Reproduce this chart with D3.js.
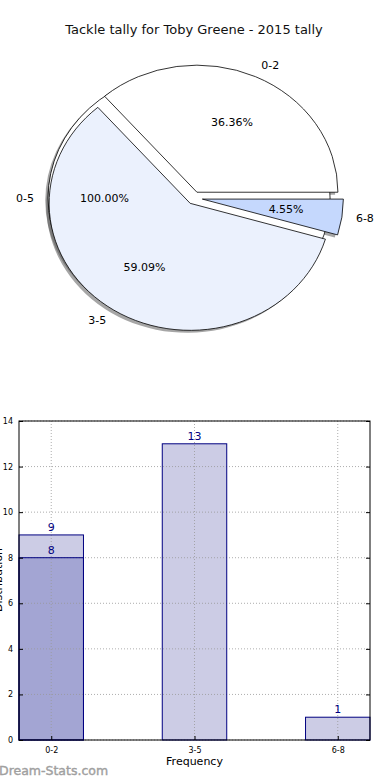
<!DOCTYPE html>
<html><head><meta charset="utf-8">
<script src="https://cdn.jsdelivr.net/npm/d3@7"></script>
<style>body{margin:0;background:#fff;}svg{display:block;font-family:"DejaVu Sans",sans-serif;}</style>
</head><body>
<svg id="c" width="390" height="780"></svg>
<script>
const title = "Tackle tally for Toby Greene - 2015 tally";
const outerLabels = ["0-5"];
const outerValues = [22];
const pieLabels = ["0-2", "3-5", "6-8"];
const pieValues = [8, 13, 1];
const pieColors = ["#ffffff", "#ebf1fd", "#c5d8fd"];
const barCategories = ["0-2", "3-5", "6-8"];
const barValues = [9, 13, 1];
const overlayValues = [8, null, null];
const yTicks = [0, 2, 4, 6, 8, 10, 12, 14];

const svg = d3.select("#c");
svg.append("text").attr("x", 194).attr("y", 34).attr("text-anchor", "middle")
  .attr("font-size", 13).attr("fill", "#111").text(title);

// ---- pie ----
const cx = 194, cy = 198, rx = 141, ry = 127;
const arc = d3.arc().innerRadius(0).outerRadius(1);
function wedges(values, explode) {
  const total = d3.sum(values);
  const pie = d3.pie().sort(null).startAngle(0).endAngle(2 * Math.PI)(values);
  return pie.map(p => {
    const t1 = p.startAngle, t2 = p.endAngle, mid = (t1 + t2) / 2; // matplotlib angles CCW from east
    const e = Array.isArray(explode) ? explode[p.index] : explode;
    const ox = cx + e * rx * Math.cos(mid), oy = cy - e * ry * Math.sin(mid);
    return {t1, t2, mid, ox, oy, pct: p.value / total * 100, index: p.index};
  });
}
const outerW = wedges(outerValues, 0.035);
const innerW = wedges(pieValues, [0.05, 0.05, 0.06]);
const sh = svg.append("g");
const pg = svg.append("g");
function drawWedge(g, w, fill, isShadow) {
  const d = arc({startAngle: Math.PI / 2 - w.t1, endAngle: Math.PI / 2 - w.t2});
  const tx = isShadow ? w.ox - 2.8 : w.ox, ty = isShadow ? w.oy + 2.5 : w.oy;
  const p = g.append("path").attr("d", d)
    .attr("transform", `translate(${tx},${ty}) scale(${rx},${ry})`)
    .attr("vector-effect", "non-scaling-stroke");
  if (isShadow) p.attr("fill", "#4d4d4d").attr("fill-opacity", 0.5).attr("stroke", "none");
  else p.attr("fill", fill).attr("stroke", "#000").attr("stroke-width", 0.8);
}
outerW.forEach(w => drawWedge(sh, w, null, true));
innerW.forEach(w => drawWedge(sh, w, null, true));
outerW.forEach(w => drawWedge(pg, w, pieColors[w.index], false));
innerW.forEach(w => drawWedge(pg, w, pieColors[w.index], false));
function labels(ws, names) {
  ws.forEach(w => {
    const c = Math.cos(w.mid), s = Math.sin(w.mid);
    pg.append("text").attr("x", w.ox + 1.1 * rx * c).attr("y", w.oy - 1.1 * ry * s)
      .attr("text-anchor", c >= 0 ? "start" : "end").attr("dominant-baseline", "central")
      .attr("font-size", 11).attr("fill", "#000").text(names[w.index]);
    pg.append("text").attr("x", w.ox + 0.6 * rx * c).attr("y", w.oy - 0.6 * ry * s)
      .attr("text-anchor", "middle").attr("dominant-baseline", "central")
      .attr("font-size", 11).attr("fill", "#000").text(w.pct.toFixed(2) + "%");
  });
}
labels(outerW, outerLabels);
labels(innerW, pieLabels);

// ---- bar chart ----
const L = 19, R = 370, T = 421, B = 740;
const x = d3.scaleLinear().domain([-0.225, 2.225]).range([L, R]);
const y = d3.scaleLinear().domain([0, 14]).range([B, T]);
const bw = 0.45;
const bg = svg.append("g");
function barRects(sel, data, fill, stroke) {
  sel.selectAll("rect").data(data).join("rect")
    .filter(d => d != null)
    .attr("x", (d, i) => x(i - bw / 2)).attr("width", x(bw) - x(0))
    .attr("y", d => y(d)).attr("height", d => B - y(d))
    .attr("fill", fill).attr("stroke", stroke).attr("stroke-width", 1);
}
barRects(bg.append("g"), barValues, "#ccccE5", "none");
barRects(bg.append("g"), overlayValues, "#a3a5d3", "none");
// dotted grid
bg.selectAll("line.gy").data(yTicks).join("line")
  .attr("x1", L).attr("x2", R).attr("y1", d => y(d)).attr("y2", d => y(d))
  .attr("stroke", "#999").attr("stroke-opacity", 0.8).attr("stroke-width", 1).attr("stroke-dasharray", "1,2");
bg.selectAll("line.gx").data(barCategories).join("line")
  .attr("x1", (d, i) => x(i)).attr("x2", (d, i) => x(i)).attr("y1", T).attr("y2", B)
  .attr("stroke", "#999").attr("stroke-opacity", 0.8).attr("stroke-width", 1).attr("stroke-dasharray", "1,2");
// bar outlines on top of grid
barRects(bg.append("g"), barValues, "none", "#000080");
barRects(bg.append("g"), overlayValues, "none", "#000080");
// value labels
bg.selectAll("text.v").data(barValues).join("text")
  .attr("x", (d, i) => x(i)).attr("y", d => y(d) - 4).attr("text-anchor", "middle")
  .attr("font-size", 11).attr("fill", "#000080").text(d => d);
bg.selectAll("text.ov").data(overlayValues).join("text").filter(d => d != null)
  .attr("x", (d, i) => x(i)).attr("y", d => y(d) - 4).attr("text-anchor", "middle")
  .attr("font-size", 11).attr("fill", "#000080").text(d => d);
// frame
bg.append("rect").attr("x", L).attr("y", T).attr("width", R - L).attr("height", B - T)
  .attr("fill", "none").attr("stroke", "#000").attr("stroke-width", 1);
// axes
const yAxisL = d3.axisLeft(y).tickValues(yTicks).tickSize(-4).tickPadding(6);
const gy = svg.append("g").attr("transform", `translate(${L},0)`).call(yAxisL);
gy.select(".domain").remove();
gy.selectAll("text").attr("font-size", 8).attr("font-family", "DejaVu Sans").attr("fill", "#000");
const yAxisR = d3.axisRight(y).tickValues(yTicks).tickSize(-4).tickFormat("");
const gyr = svg.append("g").attr("transform", `translate(${R},0)`).call(yAxisR);
gyr.select(".domain").remove();
const xAxis = d3.axisBottom(x).tickValues([0, 1, 2]).tickFormat((d) => barCategories[d]).tickSize(-4).tickPadding(7);
const gx = svg.append("g").attr("transform", `translate(0,${B})`).call(xAxis);
gx.select(".domain").remove();
gx.selectAll("text").attr("font-size", 8).attr("font-family", "DejaVu Sans").attr("fill", "#000");
svg.append("text").attr("x", x(1)).attr("y", 765).attr("text-anchor", "middle")
  .attr("font-size", 11).attr("fill", "#000").text("Frequency");
svg.append("text").attr("transform", `translate(1.5,580) rotate(-90)`).attr("text-anchor", "middle")
  .attr("font-size", 11).attr("fill", "#000").text("Distribution");
svg.append("text").attr("x", -1).attr("y", 775).attr("font-size", 12.5)
  .attr("fill", "#a0a0a0").attr("stroke", "#a0a0a0").attr("stroke-width", 0.4).text("Dream-Stats.com");
</script>
</body></html>
